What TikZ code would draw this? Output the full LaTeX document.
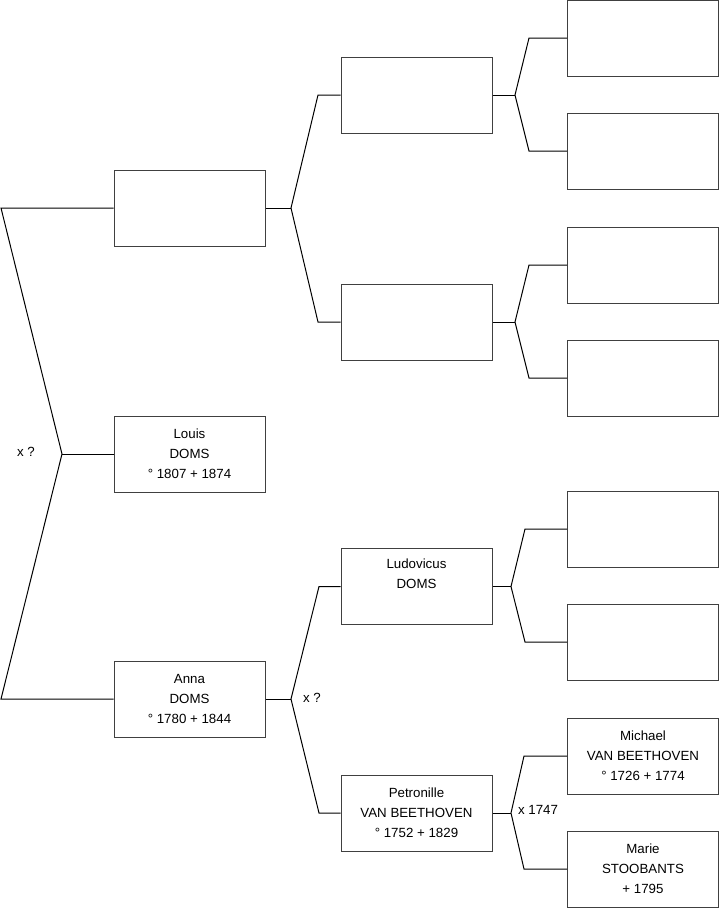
\documentclass[tikz,border=0pt]{standalone}
\usepackage{fontspec}
\setmainfont{Liberation Sans}
\begin{document}
\begin{tikzpicture}[x=1pt,y=-1pt,
  pbox/.style={draw=black!75,line width=1pt,minimum width=151pt,minimum height=76pt,inner sep=0pt,align=center,font=\fontsize{13.3}{20}\selectfont},
  conn/.style={draw=black,line width=1pt},
  lbl/.style={font=\fontsize{13.3}{16}\selectfont,inner sep=0pt}]
\useasboundingbox (0,0) rectangle (719,908);
% column 1
\node[pbox] (a1) at (189.5,208) {};
\node[pbox] (a2) at (189.5,454) {Louis\\DOMS\\° 1807 + 1874};
\node[pbox] (a3) at (189.5,699) {Anna\\DOMS\\° 1780 + 1844};
% column 2
\node[pbox] (b1) at (416.5,95) {};
\node[pbox] (b2) at (416.5,322) {};
\node[pbox] (b3) at (416.5,586.5) {Ludovicus\\DOMS\\\strut};
\node[pbox] (b4) at (416.5,813) {Petronille\\VAN BEETHOVEN\\° 1752 + 1829};
% column 3
\node[pbox] (c1) at (643,38) {};
\node[pbox] (c2) at (643,151) {};
\node[pbox] (c3) at (643,265) {};
\node[pbox] (c4) at (643,378) {};
\node[pbox] (c5) at (643,529) {};
\node[pbox] (c6) at (643,642) {};
\node[pbox] (c7) at (643,756) {Michael\\VAN BEETHOVEN\\° 1726 + 1774};
\node[pbox] (c8) at (643,869) {Marie\\STOOBANTS\\+ 1795};
% junctions
\coordinate (j0t) at (1,208);
\coordinate (j0) at (62,454);
\coordinate (j0b) at (1,699);
\coordinate (j1) at (291,208);
\coordinate (k1t) at (318,95);
\coordinate (k1b) at (318,322);
\coordinate (j2) at (291,699);
\coordinate (k2t) at (319,586.5);
\coordinate (k2b) at (319,813);
\coordinate (j3) at (515,95);
\coordinate (k3t) at (529,38);
\coordinate (k3b) at (529,151);
\coordinate (j4) at (515,322);
\coordinate (k4t) at (529,265);
\coordinate (k4b) at (529,378);
\coordinate (j5) at (511,586.5);
\coordinate (k5t) at (525,529);
\coordinate (k5b) at (525,642);
\coordinate (j6) at (511,813);
\coordinate (k6t) at (524,756);
\coordinate (k6b) at (524,869);
% connectors
\draw[conn] (a1.west) -- (j0t) -- (j0) -- (j0b) -- (a3.west);
\draw[conn] (j0) -- (a2.west);
\draw[conn] (a1.east) -- (j1);
\draw[conn] (b1.west) -- (k1t) -- (j1) -- (k1b) -- (b2.west);
\draw[conn] (a3.east) -- (j2);
\draw[conn] (b3.west) -- (k2t) -- (j2) -- (k2b) -- (b4.west);
\draw[conn] (b1.east) -- (j3);
\draw[conn] (c1.west) -- (k3t) -- (j3) -- (k3b) -- (c2.west);
\draw[conn] (b2.east) -- (j4);
\draw[conn] (c3.west) -- (k4t) -- (j4) -- (k4b) -- (c4.west);
\draw[conn] (b3.east) -- (j5);
\draw[conn] (c5.west) -- (k5t) -- (j5) -- (k5b) -- (c6.west);
\draw[conn] (b4.east) -- (j6);
\draw[conn] (c7.west) -- (k6t) -- (j6) -- (k6b) -- (c8.west);
% marriage labels
\node[lbl] (m0) at (26,452) {x ?};
\node[lbl] (m1) at (312,698) {x ?};
\node[lbl] (m2) at (538,810) {x 1747};
\end{tikzpicture}
\end{document}
